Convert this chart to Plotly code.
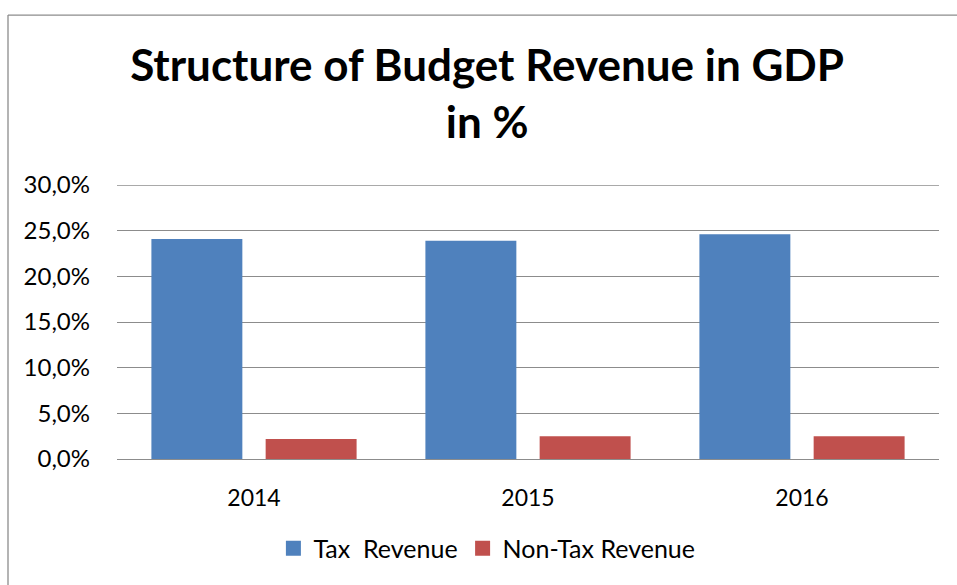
import plotly.graph_objects as go

# Budget revenue structure, share of GDP (%)
years = ["2014", "2015", "2016"]
tax_revenue = [24.1, 23.9, 24.6]
non_tax_revenue = [2.2, 2.5, 2.5]
y_ticks = [0, 5, 10, 15, 20, 25, 30]
y_tick_labels = [f"{v:.1f}%".replace(".", ",") for v in y_ticks]

FONT = "Lato"
BLUE = "#4F81BD"
RED = "#C0504D"
GRID = "#8c8c8c"

fig = go.Figure()
fig.add_trace(go.Bar(name="Tax\u00a0 Revenue", x=years, y=tax_revenue,
                     marker=dict(color=BLUE, line=dict(width=0)),
                     showlegend=False, legendgroup="tax"))
fig.add_trace(go.Bar(name="Non-Tax Revenue", x=years, y=non_tax_revenue,
                     marker=dict(color=RED, line=dict(width=0)),
                     showlegend=False, legendgroup="nontax"))

# Legend keys drawn as square swatches
fig.add_trace(go.Scatter(name="Tax\u00a0 Revenue", x=[None], y=[None],
                         mode="markers", legendgroup="tax",
                         marker=dict(symbol="square", size=15, color=BLUE)))
fig.add_trace(go.Scatter(name="Non-Tax Revenue", x=[None], y=[None],
                         mode="markers", legendgroup="nontax",
                         marker=dict(symbol="square", size=15, color=RED)))

fig.update_layout(
    width=957, height=585,
    margin=dict(l=117, r=18, t=185, b=126),
    paper_bgcolor="white", plot_bgcolor="white",
    barmode="group", bargap=0.166, bargroupgap=0.204,
    font=dict(family=FONT, color="black", size=23),
    title=dict(
        text="<b>Structure of Budget Revenue in GDP<br>in %</b>",
        font=dict(family=FONT, size=44, color="black"),
        x=0.509, xanchor="center", xref="container",
        y=0.862, yanchor="top", yref="container",
    ),
    legend=dict(orientation="h", x=0.45, xanchor="center",
                y=-0.327, yanchor="middle", font=dict(size=25),
                itemclick=False, itemdoubleclick=False),
    showlegend=True,
)
fig.update_yaxes(range=[0, 30], tickvals=y_ticks, ticktext=y_tick_labels,
                 tickfont=dict(size=24),
                 showgrid=True, gridcolor=GRID,
                 gridwidth=1.3, zeroline=False, showline=False,
                 ticklabelstandoff=26, fixedrange=True)
fig.update_xaxes(type="category", showline=True, linecolor=GRID,
                 linewidth=1.3, showgrid=False, ticklabelstandoff=18,
                 fixedrange=True)

# Gridline at the top of the value range (plotly skips it at the edge)
fig.add_hline(y=y_ticks[-1], line=dict(color=GRID, width=1.3), layer="below")

# Chart-area frame
fig.add_shape(type="line", xref="paper", yref="paper",
              x0=-0.1326, x1=-0.1326, y0=-0.5, y1=1.62,
              line=dict(color=GRID, width=1.3))
fig.add_shape(type="line", xref="paper", yref="paper",
              x0=-0.1326, x1=1.03, y0=1.62, y1=1.62,
              line=dict(color=GRID, width=1.3))

fig.write_html("out.html", config={"displayModeBar": False})
